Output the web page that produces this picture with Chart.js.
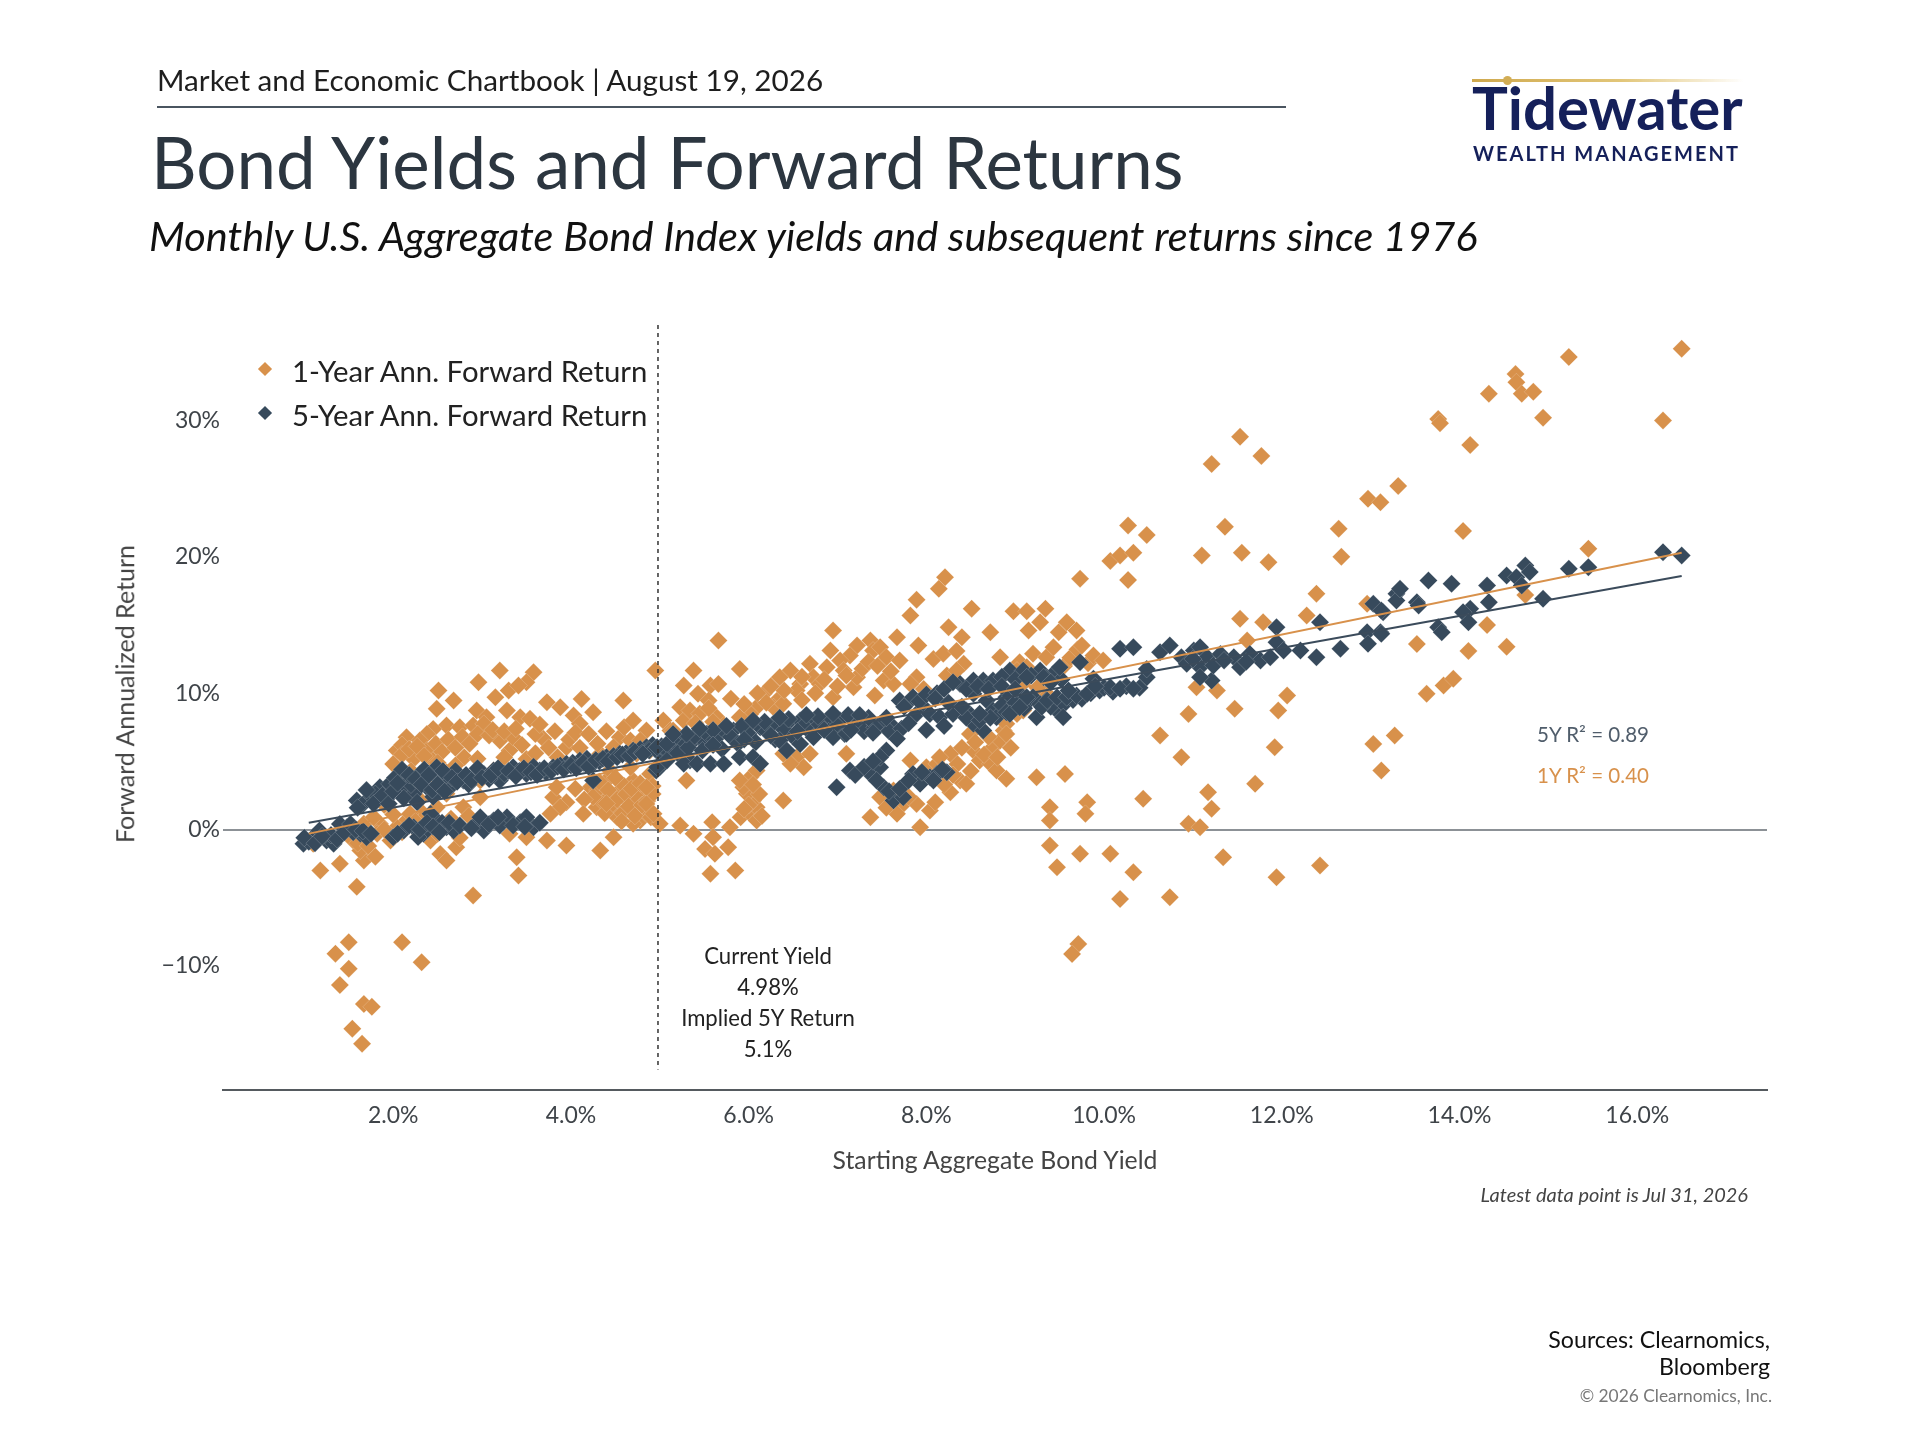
<!DOCTYPE html>
<html>
<head>
<meta charset="utf-8">
<script src="https://cdn.jsdelivr.net/npm/chart.js@4.4.1/dist/chart.umd.min.js"></script>
<style>
  html, body { margin:0; padding:0; background:#fff; }
  body { width:1920px; height:1440px; position:relative; overflow:hidden; font-family:'Lato', sans-serif; }
  #chart { position:absolute; left:0; top:0; }
  .t { position:absolute; white-space:nowrap; display:inline-block; line-height:1.1; }
  .l { transform:translateY(-50%); }
  .c { transform:translate(-50%,-50%); }
  .r { transform:translateY(-50%); }
  .dia { position:absolute; width:10px; height:10px; transform:translate(-50%,-50%) rotate(45deg); }
</style>
</head>
<body>
<canvas id="chart" width="1920" height="1440"></canvas>

<!-- header -->
<div class="t l" data-w="666" style="left:157px; top:80px; font-size:27px; color:#1e1e1e;">Market and Economic Chartbook | August 19, 2026</div>
<div style="position:absolute; left:157px; top:106px; width:1129px; height:1.5px; background:#4a5560;"></div>
<div class="t l" data-w="1033" style="left:151px; top:162px; font-size:70px; color:#2c3640;">Bond Yields and Forward Returns</div>
<div class="t l" data-w="1329" style="left:149px; top:236px; font-size:40px; font-style:italic; color:#111;">Monthly U.S. Aggregate Bond Index yields and subsequent returns since 1976</div>

<!-- logo -->
<div style="position:absolute; left:1472px; top:79px; width:272px; height:3px; background:linear-gradient(90deg,#cfa94e,#e2c679 55%,rgba(240,225,180,0));"></div>
<div style="position:absolute; left:1503px; top:76px; width:9px; height:9px; border-radius:50%; background:#d2ad55;"></div>
<div class="t l" data-w="271" style="left:1472px; top:108px; font-size:50px; font-weight:700; color:#15205a;">Tidewater</div>
<div class="t l" data-w="264" style="left:1473px; top:153px; font-size:22px; font-weight:700; letter-spacing:2px; color:#15205a;">WEALTH MANAGEMENT</div>

<!-- legend -->
<div class="dia" style="left:265px; top:369px; background:#d8914b;"></div>
<div class="dia" style="left:265px; top:413px; background:#374a5c;"></div>
<div class="t l" data-w="355" style="left:292px; top:371px; font-size:28px; color:#222;">1-Year Ann. Forward Return</div>
<div class="t l" data-w="355" style="left:292px; top:415px; font-size:28px; color:#222;">5-Year Ann. Forward Return</div>

<!-- annotations -->
<div class="t" data-w="174" style="left:768px; top:940px; transform:translateX(-50%); font-size:21px; line-height:31px; text-align:center; color:#222;">Current Yield<br>4.98%<br>Implied 5Y Return<br>5.1%</div>
<div class="t l" data-w="112" style="left:1537px; top:734px; font-size:20px; color:#505d6b;">5Y R² = 0.89</div>
<div class="t l" data-w="112" style="left:1537px; top:775px; font-size:20px; color:#d8914b;">1Y R² = 0.40</div>

<!-- axis titles -->
<div class="t" data-w="298" style="left:125px; top:694px; transform:translate(-50%,-50%) rotate(-90deg); font-size:23px; color:#444;">Forward Annualized Return</div>
<div class="t c" data-w="325" style="left:995px; top:1160px; font-size:24px; color:#444;">Starting Aggregate Bond Yield</div>
<div class="t r" data-w="268" style="right:172px; top:1195px; font-size:19px; font-style:italic; color:#444;">Latest data point is Jul 31, 2026</div>

<!-- footer -->
<div class="t" data-w="222" style="right:150px; top:1326px; font-size:21px; line-height:27px; text-align:right; color:#111;">Sources: Clearnomics,<br>Bloomberg</div>
<div class="t r" data-w="192" style="right:148px; top:1396px; font-size:17px; color:#777;">© 2026 Clearnomics, Inc.</div>

<script>
// ---- data: [starting yield %, forward return %] ----
const oneYearReturns = [
  [3.20,11.66],[3.58,11.54],[3.50,10.8],[4.95,11.66],[2.96,10.8],[3.30,10.2],[2.51,10.2],[3.15,9.7],[2.68,9.46],[3.41,10.56],
  [3.73,9.34],[4.12,9.58],[4.59,9.46],[3.88,8.97],[2.49,8.85],[2.94,8.73],[3.05,8.24],[3.28,8.73],[3.43,8.24],[3.54,8.12],
  [4.03,8.36],[4.25,8.6],[4.10,7.75],[2.60,7.63],[2.75,7.5],[2.90,7.63],[3.02,7.75],[2.45,7.38],[2.38,7.0],[2.15,6.77],
  [2.30,6.53],[3.20,6.53],[3.31,5.8],[3.35,6.77],[3.69,6.65],[3.95,6.04],[4.55,6.77],[4.67,6.53],[4.85,7.26],[5.04,8.0],
  [5.27,10.56],[5.38,11.66],[5.23,8.97],[5.12,7.26],[2.04,5.8],[2.38,5.8],[2.23,5.18],[2.45,5.06],[3.13,4.33],[3.50,5.18],
  [2.04,4.57],[4.18,5.06],[4.33,5.55],[4.48,6.04],[4.74,5.55],[2.10,6.2],[2.80,5.3],[2.60,4.2],[2.20,3.0],[2.42,3.6],
  [2.98,3.6],[2.00,4.8],[2.30,2.2],[1.90,1.8],
  [2.10,5.5],[2.18,5.9],[2.27,6.1],[2.35,5.4],[2.48,6.3],[2.55,5.7],[2.62,6.6],[2.70,6.0],[2.78,6.8],[2.86,6.3],
  [2.95,7.0],[3.08,6.9],[3.12,7.3],[3.25,7.2],[3.38,7.4],[3.45,6.2],[3.60,7.0],[3.65,7.7],[3.75,6.0],[3.82,7.2],
  [3.98,6.6],[4.05,7.1],[4.20,7.0],[4.40,7.2],[4.60,7.5],[4.70,8.0],[2.20,4.3],[2.50,4.9],[2.70,4.7],[2.95,5.2],
  [3.25,5.3],[3.60,5.6],[3.85,5.3],[4.10,6.0],[4.30,6.3],
  [4.22,3.1],[4.33,2.37],[4.40,3.6],[4.48,1.64],[4.55,2.86],[4.63,2.13],[4.70,3.6],[4.74,1.39],[4.82,2.62],[4.78,0.66],
  [4.52,0.9],[4.29,1.64],[4.89,4.08],[4.67,4.57],[4.44,4.33],[4.85,1.15],[4.70,0.42],[4.36,2.0],[4.60,3.2],[4.45,2.5],
  [4.75,2.3],[4.58,1.2],[4.92,3.2],[4.30,2.9],[4.25,2.4],[4.32,3.5],[4.38,1.2],[4.42,2.9],[4.50,3.8],[4.52,2.2],
  [4.57,0.6],[4.62,2.6],[4.65,1.7],[4.68,3.0],[4.72,1.0],[4.78,3.4],[4.80,1.8],[4.86,2.1],[4.90,0.9],[4.92,2.6],
  [4.40,1.9],[4.15,2.2],[4.05,3.0],[3.95,2.0],
  [3.80,2.37],[3.88,1.64],[3.77,1.15],[3.84,3.1],[4.14,1.15],[2.98,2.37],[2.79,1.64],[2.60,2.62],[2.49,1.64],[2.34,1.15],
  [2.15,0.66],[1.85,0.42],[1.82,-0.3],[1.97,-0.8],[1.67,0.42],[1.70,-0.56],[1.55,-0.8],[1.74,-1.8],[1.67,-2.27],[1.63,-1.54],
  [1.10,-1.05],[1.18,-3.0],[1.40,-2.5],[1.59,-4.2],[2.04,0.17],[2.19,1.15],[2.42,-0.8],[2.53,-1.8],[2.60,-2.27],[2.71,-1.3],
  [2.90,-4.84],[3.31,-0.3],[3.50,-0.56],[3.73,-0.8],[3.95,-1.17],[3.39,-2.03],[3.41,-3.37],[4.33,-1.54],[4.48,-0.56],[5.00,0.42],
  [5.23,0.29],[5.38,-0.3],[1.78,0.9],[1.90,0.0],[2.00,1.1],[2.10,-0.2],[2.25,0.6],[2.30,-0.4],[2.40,0.3],[2.50,-0.3],
  [2.65,0.8],[2.75,-0.6],[2.85,1.0],[1.60,-1.0],[1.72,-1.2],[1.80,-2.0],
  [1.35,-9.1],[1.50,-8.26],[1.50,-10.2],[1.40,-11.4],[1.67,-12.8],[1.76,-13.0],[1.54,-14.6],[1.65,-15.7],[2.10,-8.26],[2.32,-9.73],
  [5.66,13.86],[5.57,10.56],[5.66,10.68],[5.90,11.78],[5.43,9.95],[5.55,9.46],[6.95,14.6],[7.82,15.7],[7.89,16.85],[8.51,16.2],
  [8.98,16.0],[9.13,16.0],[9.34,16.2],[9.28,15.2],[9.15,14.6],[8.25,14.84],[8.40,14.1],[8.72,14.47],[7.67,14.1],[7.91,13.5],
  [7.37,13.86],[7.40,13.13],[7.48,13.37],[7.55,12.64],[7.22,13.5],[7.14,12.76],[6.92,13.13],[7.03,12.4],[7.07,11.66],[6.88,11.9],
  [6.69,12.15],[6.73,11.17],[6.58,10.68],[6.47,11.66],[6.35,11.17],[6.54,10.2],[6.80,10.68],[6.95,9.7],[7.18,10.44],[7.22,11.17],
  [7.52,10.93],[7.42,9.83],[8.08,12.5],[8.19,12.9],[8.34,13.1],[8.42,12.15],[8.83,12.64],[9.05,12.27],[9.20,12.9],[9.35,12.64],
  [9.02,11.66],[9.43,13.37],[8.23,11.3],[8.34,11.66],[7.89,11.17],[7.97,10.3],[7.82,10.68],[7.63,10.68],[6.17,9.95],[6.32,9.46],
  [6.28,8.97],[6.39,9.22],[6.09,8.97],[6.02,8.48],[5.90,8.24],[5.64,8.24],[5.72,7.63],[5.79,7.14],[5.27,8.0],[5.15,7.26],
  [4.78,6.53],[5.34,8.73],[4.89,5.8],
  [5.45,8.5],[5.55,8.9],[5.80,9.6],[5.95,9.2],[6.10,10.0],[6.20,9.3],[6.40,10.2],[6.60,9.5],[6.75,10.0],[6.85,11.0],
  [7.00,10.5],[7.10,11.3],[7.28,11.8],[7.35,12.3],[7.45,12.0],[7.60,11.6],[7.70,12.4],[6.60,11.2],[6.25,10.5],[5.40,7.8],
  [5.60,7.9],
  [5.30,3.6],[4.85,3.1],[4.85,1.88],[4.93,1.15],[5.59,0.54],[5.79,0.17],[5.91,0.9],[6.02,1.15],[6.09,1.64],[6.05,2.13],
  [5.98,2.62],[5.94,3.1],[6.02,3.84],[5.90,3.6],[6.09,0.66],[5.51,-1.42],[5.62,-1.78],[5.57,-3.25],[5.85,-3.0],[5.60,-0.56],
  [5.77,-1.3],[6.39,2.13],[6.54,5.3],[6.62,4.57],[6.69,5.55],[6.47,4.82],[6.39,5.55],[6.09,4.33],[7.10,5.55],[7.37,0.9],
  [7.48,2.37],[7.63,2.86],[7.74,1.88],[7.67,1.15],[7.89,1.88],[8.04,1.39],[7.93,0.17],[7.82,5.06],[8.00,4.57],[8.12,4.82],
  [8.27,5.55],[8.38,3.6],[8.45,3.35],[8.27,2.74],[8.53,5.8],[8.60,5.06],[8.72,4.82],[8.75,6.04],[8.83,6.53],[8.87,7.26],
  [8.90,7.75],[8.79,4.33],[8.90,3.72],[9.24,3.84],[8.60,7.5],[8.49,7.0],[9.39,1.64],[9.39,0.66],[9.39,-1.17],[9.47,-2.76],
  [9.02,8.48],[9.09,8.73],[9.24,9.46],[8.98,8.97],[8.90,7.0],
  [6.00,1.8],[6.12,2.6],[6.05,3.3],[5.95,1.5],[6.15,1.0],[8.15,5.3],[8.35,4.8],[8.50,4.3],[8.65,5.5],[8.80,5.3],
  [8.95,6.0],[8.70,6.8],[8.55,6.4],[8.40,6.0],[8.30,4.0],[8.20,3.3],[7.55,1.6],[7.80,2.4],[8.10,2.0],
  [9.35,10.0],[9.45,11.2],[9.55,12.0],[9.62,12.6],[9.70,13.2],[9.82,12.2],[9.10,10.8],[9.25,10.4],
  [8.21,18.5],[8.14,17.65],[10.27,22.3],[10.48,21.6],[10.07,19.7],[10.18,20.1],[10.33,20.3],[10.27,18.3],[9.73,18.4],[11.36,22.2],
  [11.10,20.1],[11.55,20.3],[11.85,19.6],[12.64,22.05],[12.67,20.0],[12.97,24.25],[11.53,28.8],[11.21,26.8],[11.77,27.4],[12.39,17.3],
  [12.28,15.7],[12.96,16.55],[13.52,13.6],[11.53,15.45],[11.79,15.2],[11.61,13.86],[9.49,14.47],[9.58,15.2],[9.69,14.6],[9.75,13.5],
  [9.88,12.76],[9.99,12.4],[9.13,11.9],[11.04,10.44],[11.27,10.2],[10.95,8.48],[11.47,8.85],[11.96,8.73],[12.06,9.83],[10.63,6.9],
  [10.87,5.3],[11.92,6.04],[13.03,6.28],[13.27,6.9],[13.12,4.33],[11.70,3.35],[10.44,2.25],[11.17,2.74],[11.21,1.52],[10.95,0.42],
  [11.08,0.17],[9.56,4.08],[9.81,2.0],[9.79,1.15],[9.73,-1.78],[10.07,-1.78],[10.33,-3.13],[10.18,-5.1],[10.74,-4.96],[11.34,-2.03],
  [11.94,-3.5],[12.43,-2.64],[9.71,-8.39],[9.64,-9.12],
  [16.50,35.26],[15.23,34.65],[14.63,33.4],[14.64,32.8],[14.70,31.96],[14.83,32.1],[14.33,31.96],[13.76,30.1],[13.78,29.8],[14.94,30.2],
  [14.12,28.2],[16.29,30.0],[13.31,25.2],[13.11,24.0],[14.04,21.9],[15.45,20.6],[14.74,17.2],[14.31,15.0],[14.10,13.1],[14.53,13.4],
  [13.63,9.95],[13.82,10.56],[13.93,11.05]
];

const fiveYearReturns = [
  [0.99,-1.05],[1.10,-0.56],[1.25,-0.8],[1.33,-1.05],[1.17,-0.07],[1.48,0.17],[1.63,-0.3],[1.70,-0.56],[1.05,-0.9],[1.30,-0.4],
  [1.40,0.4],[1.55,-0.2],[1.00,-0.6],[1.12,-1.0],[1.20,-0.5],[1.37,-0.7],[1.45,-0.2],[1.52,0.4],[1.58,0.0],[1.66,-0.1],
  [1.75,-0.3],
  [1.59,2.13],[1.74,2.37],[1.85,3.1],[1.96,3.35],[2.08,2.86],[2.15,3.84],[2.30,4.08],[2.23,2.62],[2.38,3.1],[2.49,4.57],
  [2.53,3.6],[2.64,3.1],[2.79,3.6],[2.90,3.84],[3.02,4.08],[3.13,4.33],[3.20,3.6],[3.35,4.57],[3.50,4.08],[3.65,4.33],
  [3.80,4.57],[3.95,4.82],[4.10,5.06],[4.25,4.82],[4.25,3.6],[4.40,5.3],[4.55,5.55],[4.70,5.8],[4.85,6.04],[5.00,5.55],
  [5.00,4.57],[5.12,6.04],[5.23,6.53],[5.38,6.53],[5.34,5.06],[4.96,4.33],
  [1.65,1.8],[1.80,2.6],[1.92,2.2],[2.02,3.8],[2.10,4.4],[2.20,3.3],[2.35,4.4],[2.45,2.4],[2.60,4.0],[2.70,4.3],
  [2.85,3.3],[2.95,4.5],[3.08,3.7],[3.25,4.1],[3.42,4.3],[3.58,4.6],[3.72,4.2],[3.88,4.7],[4.02,4.9],[4.18,5.2],
  [4.32,5.0],[4.48,5.4],[4.62,5.6],[4.78,5.9],[4.92,6.2],
  [1.60,1.6],[1.70,2.9],[1.78,1.9],[1.88,2.5],[1.95,1.9],[2.00,2.8],[2.05,3.4],[2.12,2.3],[2.18,4.0],[2.25,3.7],
  [2.27,2.0],[2.32,3.3],[2.40,4.0],[2.44,2.9],[2.50,3.3],[2.56,4.3],[2.58,2.8],[2.66,3.8],[2.72,3.5],[2.82,4.0],
  [2.88,3.6],[3.00,3.8],[3.10,4.0],[3.18,4.5],[3.30,4.3],[3.38,3.9],[3.47,4.5],[3.55,4.2],[3.62,4.0],[3.70,4.5],
  [3.78,4.3],[3.85,4.6],[3.92,4.4],[4.00,4.7],[4.06,4.5],[4.14,4.9],[4.20,4.6],[4.28,5.1],[4.36,5.2],[4.42,5.0],
  [4.52,5.3],[4.58,5.5],[4.66,5.4],[4.72,5.7],[4.80,5.6],[4.88,5.8],[4.95,5.9],[5.02,6.1],[5.08,5.8],[5.18,6.3],
  [5.28,6.2],[5.45,6.7],[5.50,6.5],
  [2.00,-0.56],[2.12,-0.07],[2.23,0.17],[2.34,-0.3],[2.49,0.66],[2.60,0.17],[2.68,-0.07],[2.94,0.42],[3.02,-0.07],[3.13,0.66],
  [3.28,0.9],[3.43,0.54],[3.58,0.17],[2.42,1.15],[2.98,0.9],[2.28,-0.55],[2.55,0.5],[3.20,0.3],[3.50,0.9],
  [2.05,-0.3],[2.18,0.3],[2.30,0.0],[2.38,0.5],[2.45,0.2],[2.52,-0.2],[2.63,0.5],[2.75,0.3],[2.88,0.1],[3.08,0.4],
  [3.18,0.9],[3.35,0.3],[3.48,0.2],[3.65,0.5],
  [4.81,5.55],[4.97,6.04],[5.08,6.28],[5.38,6.77],[5.53,7.02],[5.68,7.02],[5.83,7.26],[5.98,7.5],[6.13,7.5],[6.28,7.75],
  [6.43,7.75],[6.58,8.0],[6.73,8.0],[6.88,8.0],[7.03,8.0],[7.18,8.0],[7.33,7.75],[7.48,7.75],[7.63,7.5],[7.70,9.46],
  [7.78,9.22],[7.85,9.7],[7.97,8.97],[7.89,8.48],[8.04,8.48],[8.15,8.24],[8.30,8.48],[8.45,8.73],[8.38,10.68],[8.53,10.93],
  [8.64,10.93],[8.75,10.93],[8.94,11.66],[9.09,11.66],[9.28,11.66],[9.43,11.42],[8.53,9.95],[8.68,9.46],[8.75,8.73],[8.90,9.7],
  [9.05,9.95],[9.20,9.7],[9.35,9.46],[9.47,9.46],[8.53,7.75],[8.64,7.26],[8.79,8.24],[9.24,8.24],[9.47,8.73],
  [5.20,5.6],[5.32,6.0],[5.48,5.8],[5.62,6.6],[5.70,5.9],[5.80,6.8],[5.88,6.3],[6.00,7.0],[6.08,6.4],[6.20,7.2],
  [6.30,6.6],[6.40,7.3],[6.50,6.8],[6.62,7.6],[6.70,7.1],[6.80,7.7],[6.90,7.2],[7.00,7.6],[7.08,7.0],[7.22,7.7],
  [7.30,7.2],[7.42,7.5],[7.58,7.2],[7.72,7.4],[7.35,8.2],[7.12,8.4],[6.78,8.3],[6.45,8.1],[6.18,7.9],[5.92,7.6],
  [5.60,7.3],[5.30,7.0],
  [7.75,9.0],[7.92,9.4],[8.00,9.9],[8.12,10.0],[8.45,10.3],[8.58,10.5],[8.70,10.3],[8.85,11.2],[9.00,11.0],[9.18,11.3],
  [9.35,11.1],[9.52,11.0],[8.45,8.2],[8.60,8.0],[8.72,8.2],[8.85,9.1],[9.00,9.3],[9.15,9.4],[9.28,9.2],[9.40,9.0],
  [9.55,9.2],[9.65,9.5],[9.75,9.6],[9.85,10.0],[9.95,10.2],[10.00,10.4],[10.10,10.1],[10.25,10.5],[10.40,10.4],
  [5.27,4.82],[5.42,4.82],[5.57,4.82],[5.72,4.82],[5.90,5.3],[6.05,5.3],[6.13,4.82],[6.35,6.53],[6.43,5.8],[6.58,6.28],
  [6.73,6.77],[6.95,6.77],[7.10,7.02],[7.67,6.65],[6.99,3.1],[7.14,4.33],[7.37,4.08],[7.48,4.57],[7.55,5.8],[7.52,3.1],
  [7.63,2.13],[7.74,2.37],[7.48,5.3],[7.85,4.08],[7.93,3.35],[8.04,3.84],[8.12,4.08],[8.23,4.2],[4.97,4.57],[5.08,5.06],
  [7.20,4.0],[7.30,4.6],[7.44,3.6],[7.58,2.8],[7.70,3.0],[7.80,3.6],[7.95,4.2],[8.08,3.6],[8.18,4.4],[7.40,5.0],
  [5.15,7.0],[5.45,7.4],[5.75,7.6],[6.05,8.0],[6.35,8.2],[6.65,8.4],[6.95,8.5],[7.25,8.4],[7.55,8.2],[5.60,6.2],
  [5.95,6.6],[6.25,6.9],[6.55,7.2],[6.85,7.3],[7.15,7.3],[7.40,7.1],[7.80,7.8],[8.00,7.3],[8.20,7.6],[8.10,9.6],
  [8.25,9.3],[8.40,9.0],[8.60,8.5],[8.90,8.6],[9.10,8.9],[9.30,9.0],[8.85,10.5],[9.00,10.3],[8.20,10.3],[8.30,10.8],
  [9.13,11.17],[9.32,11.17],[9.13,9.7],[9.36,9.46],[9.47,9.7],[9.58,9.7],[9.69,9.83],[9.81,9.95],[8.94,8.48],[9.05,8.97],
  [9.54,8.24],[9.50,11.9],[9.73,12.27],[9.88,11.05],[10.07,10.44],[10.18,10.32],[10.33,10.32],[10.48,11.17],[10.48,11.78],[10.18,13.25],
  [10.33,13.37],[10.63,13.0],[10.74,13.5],[10.87,12.64],[11.01,13.13],[11.08,13.37],[11.16,12.64],[11.31,12.88],[11.46,12.64],[11.53,11.9],
  [11.64,12.88],[11.76,12.4],[11.87,12.64],[11.94,14.84],[11.94,13.74],[12.02,13.13],[12.21,13.13],[12.39,12.64],[12.43,15.2],[12.66,13.25],
  [12.96,14.47],[12.97,13.62],[13.03,16.55],[13.11,14.47],[13.14,15.94],[13.29,17.29],[13.29,16.8],[13.52,16.67],[11.08,11.9],[11.21,10.93],
  [11.08,11.17],[10.93,12.15],[11.23,12.03],[9.60,10.2],[9.90,10.5],[9.40,10.8],[11.00,12.5],[11.35,12.4],[11.60,12.3],
  [16.29,20.34],[16.50,20.1],[15.23,19.12],[15.45,19.24],[14.74,19.36],[14.79,18.88],[14.53,18.63],[14.64,18.5],[14.70,17.9],[14.94,16.92],
  [14.31,17.9],[14.33,16.67],[14.12,16.19],[14.04,15.94],[14.10,15.2],[13.91,18.02],[13.65,18.26],[13.33,17.65],[13.54,16.43],[13.76,14.84],
  [13.80,14.47],[13.12,16.06],[13.12,14.35]
];

// fitted trend lines and the current-yield marker
const oneYearTrend = [[1.05,-0.3],[16.5,20.3]];
const fiveYearTrend = [[1.05,0.5],[16.5,18.6]];
const currentYield = [[4.98,37],[4.98,-17.6]];

const xTicks = [2,4,6,8,10,12,14,16];
const yTicks = [-10,0,10,20,30];

const ORANGE = '#d8914b', SLATE = '#374a5c';
const pts = arr => arr.map(([x,y]) => ({x, y}));

Chart.defaults.font.family = 'Lato, sans-serif';

new Chart(document.getElementById('chart'), {
  type:'scatter',
  data:{ datasets:[
    { type:'line', data:pts(fiveYearTrend), borderColor:'#3b4b5b', borderWidth:2, pointRadius:0, order:0 },
    { type:'line', data:pts(oneYearTrend), borderColor:ORANGE, borderWidth:2, pointRadius:0, order:0 },
    { type:'line', data:pts(currentYield), borderColor:'#333', borderWidth:1.5, borderDash:[4,4], pointRadius:0, order:0 },
    { data:pts(fiveYearReturns), backgroundColor:SLATE, borderColor:'rgba(255,255,255,.3)', borderWidth:0.6,
      pointStyle:'rectRot', pointRadius:9, order:1 },
    { data:pts(oneYearReturns), backgroundColor:ORANGE, borderColor:'rgba(255,255,255,.3)', borderWidth:0.6,
      pointStyle:'rectRot', pointRadius:9, order:2 }
  ]},
  options:{
    responsive:false, animation:false, devicePixelRatio:1,
    layout:{ padding:{ left:0, right:153, top:325, bottom:290 } },
    plugins:{ legend:{ display:false }, tooltip:{ enabled:false } },
    scales:{
      x:{
        type:'linear', min:0.085, max:17.46,
        afterFit:(s)=>{ s.height = 60; },
        afterBuildTicks:(s)=>{ s.ticks = xTicks.map(v=>({value:v})); },
        ticks:{ padding:12, color:'#3f4449', font:{ size:23 }, callback:(v)=> v.toFixed(1)+'%' },
        grid:{ display:false, drawTicks:false },
        border:{ display:true, color:'#555a5f', width:2 }
      },
      y:{
        min:-19.1, max:37,
        afterFit:(s)=>{ s.width = 223; },
        afterBuildTicks:(s)=>{ s.ticks = yTicks.map(v=>({value:v})); },
        ticks:{ padding:3, color:'#3f4449', font:{ size:23 }, callback:(v)=> (v<0?'\u2212':'')+Math.abs(v)+'%' },
        grid:{ drawTicks:false, lineWidth:2, color:(c)=> c.tick && c.tick.value===0 ? '#8c9196' : 'rgba(0,0,0,0)' },
        border:{ display:false }
      }
    }
  }
});

// size text blocks to the widths measured on the reference
document.querySelectorAll('[data-w]').forEach(el=>{
  const target = +el.dataset.w;
  const fs = parseFloat(getComputedStyle(el).fontSize);
  el.style.fontSize = (fs * target / el.offsetWidth) + 'px';
});
</script>
</body>
</html>
